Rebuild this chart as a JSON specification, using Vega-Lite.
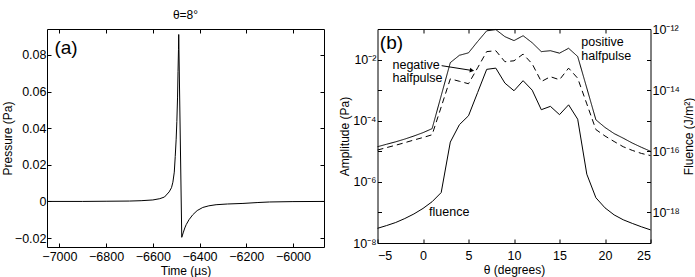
{
  "$schema": "https://vega.github.io/schema/vega-lite/v6.json",
  "background": "white",
  "padding": {"left": 0, "top": 8, "right": 1, "bottom": 1},
  "bounds": "flush",
  "spacing": 53.5,
  "config": {
    "font": "Liberation Sans",
    "view": {"stroke": "black", "strokeWidth": 1},
    "axis": {
      "grid": false,
      "domain": false,
      "tickColor": "black",
      "tickSize": -4,
      "labelPadding": 6,
      "labelFontSize": 12.5,
      "labelColor": "black",
      "labelFont": "Liberation Sans",
      "titleFontSize": 12,
      "titleFontWeight": "normal",
      "titleColor": "black",
      "titleFont": "Liberation Sans",
      "titlePadding": 0
    },
    "title": {"fontSize": 12, "fontWeight": "normal", "font": "Liberation Sans", "offset": 7, "color": "black"}
  },
  "hconcat": [
    {
      "width": 277,
      "height": 218,
      "title": {"text": "θ=8°"},
      "layer": [
        {
          "data": {"values": [
            {"t": -7053, "p": 0},
            {"t": -6900, "p": 0},
            {"t": -6800, "p": 0.0001},
            {"t": -6700, "p": 0.0002},
            {"t": -6650, "p": 0.0004},
            {"t": -6600, "p": 0.0008},
            {"t": -6570, "p": 0.0015},
            {"t": -6550, "p": 0.0024},
            {"t": -6530, "p": 0.0052},
            {"t": -6520, "p": 0.0075},
            {"t": -6514, "p": 0.0105},
            {"t": -6508, "p": 0.016},
            {"t": -6504, "p": 0.0245},
            {"t": -6500, "p": 0.034},
            {"t": -6497, "p": 0.0436},
            {"t": -6494, "p": 0.057},
            {"t": -6492, "p": 0.0709},
            {"t": -6490, "p": 0.083},
            {"t": -6489, "p": 0.0912},
            {"t": -6476, "p": -0.0196},
            {"t": -6470, "p": -0.0172},
            {"t": -6463, "p": -0.0145},
            {"t": -6457, "p": -0.0127},
            {"t": -6445, "p": -0.0100},
            {"t": -6429, "p": -0.0073},
            {"t": -6410, "p": -0.0050},
            {"t": -6386, "p": -0.0033},
            {"t": -6360, "p": -0.0024},
            {"t": -6329, "p": -0.0018},
            {"t": -6280, "p": -0.0014},
            {"t": -6214, "p": -0.0011},
            {"t": -6150, "p": -0.0006},
            {"t": -6100, "p": -0.0003},
            {"t": -6000, "p": -0.0001},
            {"t": -5867, "p": 0}
          ]},
          "mark": {"type": "line", "color": "black", "strokeWidth": 1},
          "encoding": {
            "x": {"field": "t", "type": "quantitative",
              "scale": {"domain": [-7053, -5867], "nice": false, "zero": false},
              "axis": {"orient": "bottom", "values": [-7000, -6800, -6600, -6400, -6200, -6000], "format": "d", "title": "Time (µs)", "labelPadding": 7, "titlePadding": 3}},
            "y": {"field": "p", "type": "quantitative",
              "scale": {"domain": [-0.0249, 0.0942], "nice": false, "zero": false},
              "axis": {"orient": "left", "values": [-0.02, 0, 0.02, 0.04, 0.06, 0.08], "labelExpr": "datum.value == 0 ? '0' : format(datum.value, '.2f')", "title": "Pressure (Pa)", "labelPadding": 5, "titlePadding": 0}}
          }
        },
        {
          "data": {"values": [{"t": -7021, "p": 0.0807, "label": "(a)"}]},
          "mark": {"type": "text", "align": "left", "baseline": "alphabetic", "fontSize": 19, "font": "Liberation Sans", "color": "black"},
          "encoding": {
            "x": {"field": "t", "type": "quantitative", "axis": {"orient": "top", "labels": false, "title": null, "values": [-7000, -6800, -6600, -6400, -6200, -6000]}},
            "y": {"field": "p", "type": "quantitative", "axis": {"orient": "right", "labels": false, "title": null, "values": [-0.02, 0, 0.02, 0.04, 0.06, 0.08]}},
            "text": {"field": "label"}
          }
        }
      ],
      "resolve": {"axis": {"x": "independent", "y": "independent"}}
    },
    {
      "width": 273,
      "height": 214,
      "layer": [
        {
          "encoding": {
            "x": {"field": "theta", "type": "quantitative",
              "scale": {"domain": [-5, 25], "nice": false, "zero": false},
              "axis": {"orient": "bottom", "values": [-5, 0, 5, 10, 15, 20, 25], "title": "θ (degrees)", "labelPadding": 10, "titlePadding": 3}},
            "y": {"field": "amp", "type": "quantitative",
              "scale": {"type": "log", "domain": [1e-8, 0.1], "nice": false},
              "axis": {"orient": "left", "values": [1e-8, 1e-7, 1e-6, 1e-5, 1e-4, 1e-3, 1e-2], "labelExpr": "(round(log(datum.value)/LN10) % 2 != 0) ? '' : '10⁻' + ['⁰','¹','²','³','⁴','⁵','⁶','⁷','⁸','⁹'][-round(log(datum.value)/LN10)]", "title": "Amplitude (Pa)", "labelPadding": 5.5, "titlePadding": 1}}
          },
          "layer": [
            {
              "data": {"values": [
                {"theta": -5, "amp": 1.41e-5, "series": "positive"},
                {"theta": -4, "amp": 1.70e-5, "series": "positive"},
                {"theta": -3, "amp": 2.04e-5, "series": "positive"},
                {"theta": -2, "amp": 2.51e-5, "series": "positive"},
                {"theta": -1, "amp": 3.16e-5, "series": "positive"},
                {"theta": 0, "amp": 4.07e-5, "series": "positive"},
                {"theta": 1, "amp": 5.50e-5, "series": "positive"},
                {"theta": 2, "amp": 6.61e-4, "series": "positive"},
                {"theta": 3, "amp": 7.94e-3, "series": "positive"},
                {"theta": 4, "amp": 1.38e-2, "series": "positive"},
                {"theta": 5, "amp": 1.66e-2, "series": "positive"},
                {"theta": 6, "amp": 3.89e-2, "series": "positive"},
                {"theta": 7, "amp": 8.71e-2, "series": "positive"},
                {"theta": 8, "amp": 9.55e-2, "series": "positive"},
                {"theta": 9, "amp": 5.62e-2, "series": "positive"},
                {"theta": 10, "amp": 4.17e-2, "series": "positive"},
                {"theta": 11, "amp": 6.03e-2, "series": "positive"},
                {"theta": 12, "amp": 3.55e-2, "series": "positive"},
                {"theta": 13, "amp": 1.82e-2, "series": "positive"},
                {"theta": 14, "amp": 1.95e-2, "series": "positive"},
                {"theta": 15, "amp": 1.62e-2, "series": "positive"},
                {"theta": 16, "amp": 2.34e-2, "series": "positive"},
                {"theta": 17, "amp": 1.26e-2, "series": "positive"},
                {"theta": 18, "amp": 1.17e-3, "series": "positive"},
                {"theta": 19, "amp": 1.07e-4, "series": "positive"},
                {"theta": 20, "amp": 6.03e-5, "series": "positive"},
                {"theta": 21, "amp": 3.80e-5, "series": "positive"},
                {"theta": 22, "amp": 2.69e-5, "series": "positive"},
                {"theta": 23, "amp": 1.86e-5, "series": "positive"},
                {"theta": 24, "amp": 1.35e-5, "series": "positive"},
                {"theta": 25, "amp": 1.0e-5, "series": "positive"},
                {"theta": -5, "amp": 1.10e-5, "series": "negative"},
                {"theta": -4, "amp": 1.32e-5, "series": "negative"},
                {"theta": -3, "amp": 1.58e-5, "series": "negative"},
                {"theta": -2, "amp": 1.91e-5, "series": "negative"},
                {"theta": -1, "amp": 2.34e-5, "series": "negative"},
                {"theta": 0, "amp": 2.82e-5, "series": "negative"},
                {"theta": 1, "amp": 3.47e-5, "series": "negative"},
                {"theta": 2, "amp": 2.82e-4, "series": "negative"},
                {"theta": 3, "amp": 2.34e-3, "series": "negative"},
                {"theta": 4, "amp": 1.95e-3, "series": "negative"},
                {"theta": 5, "amp": 1.62e-3, "series": "negative"},
                {"theta": 6, "amp": 5.37e-3, "series": "negative"},
                {"theta": 7, "amp": 1.82e-2, "series": "negative"},
                {"theta": 8, "amp": 1.95e-2, "series": "negative"},
                {"theta": 9, "amp": 8.51e-3, "series": "negative"},
                {"theta": 10, "amp": 9.12e-3, "series": "negative"},
                {"theta": 11, "amp": 1.51e-2, "series": "negative"},
                {"theta": 12, "amp": 7.24e-3, "series": "negative"},
                {"theta": 13, "amp": 1.91e-3, "series": "negative"},
                {"theta": 14, "amp": 2.75e-3, "series": "negative"},
                {"theta": 15, "amp": 2.19e-3, "series": "negative"},
                {"theta": 16, "amp": 5.25e-3, "series": "negative"},
                {"theta": 17, "amp": 2.45e-3, "series": "negative"},
                {"theta": 18, "amp": 3.55e-4, "series": "negative"},
                {"theta": 19, "amp": 5.13e-5, "series": "negative"},
                {"theta": 20, "amp": 3.16e-5, "series": "negative"},
                {"theta": 21, "amp": 2.09e-5, "series": "negative"},
                {"theta": 22, "amp": 1.41e-5, "series": "negative"},
                {"theta": 23, "amp": 1.07e-5, "series": "negative"},
                {"theta": 24, "amp": 8.51e-6, "series": "negative"},
                {"theta": 25, "amp": 7.24e-6, "series": "negative"}
              ]},
              "mark": {"type": "line", "color": "black", "strokeWidth": 1},
              "encoding": {
                "strokeDash": {"field": "series", "type": "nominal", "scale": {"domain": ["positive", "negative"], "range": [[1, 0], [6, 4]]}, "legend": null}
              }
            },
            {
              "data": {"values": [
                {"theta": -3.35, "amp": 5.1e-3, "label": "negative"},
                {"theta": -3.35, "amp": 1.82e-3, "label": "halfpulse"},
                {"theta": 17.39, "amp": 2.88e-2, "label": "positive"},
                {"theta": 17.39, "amp": 1.0e-2, "label": "halfpulse"},
                {"theta": 0.67, "amp": 7.6e-8, "label": "fluence"}
              ]},
              "mark": {"type": "text", "align": "left", "baseline": "alphabetic", "fontSize": 12.5, "font": "Liberation Sans", "color": "black"},
              "encoding": {"text": {"field": "label"}}
            },
            {
              "data": {"values": [{"theta": -4.74, "amp": 0.0229, "label": "(b)"}]},
              "mark": {"type": "text", "align": "left", "baseline": "alphabetic", "fontSize": 19, "font": "Liberation Sans", "color": "black"},
              "encoding": {"text": {"field": "label"}}
            },
            {
              "data": {"values": [{"theta": 2.05, "amp": 6.31e-3}, {"theta": 5.38, "amp": 4.40e-3}]},
              "mark": {"type": "line", "color": "black", "strokeWidth": 1},
              "encoding": {}
            },
            {
              "data": {"values": [{"theta": 5.38, "amp": 4.40e-3}]},
              "mark": {"type": "point", "shape": "triangle-right", "angle": 9, "filled": true, "color": "black", "size": 25, "opacity": 1},
              "encoding": {}
            }
          ]
        },
        {
          "data": {"values": [
            {"theta": -5, "fluence": 3.02e-19},
            {"theta": -4, "fluence": 3.72e-19},
            {"theta": -3, "fluence": 4.68e-19},
            {"theta": -2, "fluence": 6.31e-19},
            {"theta": -1, "fluence": 8.91e-19},
            {"theta": 0, "fluence": 1.35e-18},
            {"theta": 1, "fluence": 2.24e-18},
            {"theta": 2, "fluence": 4.47e-18},
            {"theta": 3, "fluence": 2.0e-16},
            {"theta": 4, "fluence": 7.41e-16},
            {"theta": 5, "fluence": 1.45e-15},
            {"theta": 6, "fluence": 8.32e-15},
            {"theta": 7, "fluence": 4.79e-14},
            {"theta": 8, "fluence": 5.25e-14},
            {"theta": 9, "fluence": 1.70e-14},
            {"theta": 10, "fluence": 9.55e-15},
            {"theta": 11, "fluence": 2.04e-14},
            {"theta": 12, "fluence": 1.0e-14},
            {"theta": 13, "fluence": 2.29e-15},
            {"theta": 14, "fluence": 2.95e-15},
            {"theta": 15, "fluence": 1.58e-15},
            {"theta": 16, "fluence": 3.31e-15},
            {"theta": 17, "fluence": 1.12e-15},
            {"theta": 18, "fluence": 1.78e-17},
            {"theta": 19, "fluence": 3.02e-18},
            {"theta": 20, "fluence": 1.41e-18},
            {"theta": 21, "fluence": 8.32e-19},
            {"theta": 22, "fluence": 5.75e-19},
            {"theta": 23, "fluence": 4.37e-19},
            {"theta": 24, "fluence": 3.39e-19},
            {"theta": 25, "fluence": 2.69e-19}
          ]},
          "mark": {"type": "line", "color": "black", "strokeWidth": 1},
          "encoding": {
            "x": {"field": "theta", "type": "quantitative",
              "scale": {"domain": [-5, 25], "nice": false, "zero": false},
              "axis": {"orient": "top", "labels": false, "title": null, "values": [0, 5, 10, 15, 20]}},
            "y": {"field": "fluence", "type": "quantitative",
              "scale": {"type": "log", "domain": [1e-19, 1e-12], "nice": false},
              "axis": {"orient": "right", "values": [1e-19, 1e-18, 1e-17, 1e-16, 1e-15, 1e-14, 1e-13, 1e-12], "labelExpr": "(round(log(datum.value)/LN10) % 2 != 0) ? '' : '10⁻¹' + ['⁰','¹','²','³','⁴','⁵','⁶','⁷','⁸','⁹'][-round(log(datum.value)/LN10) - 10]", "title": "Fluence (J/m²)", "titleAngle": 270, "titleBaseline": "top", "labelPadding": 5.5, "titlePadding": 4}}
          }
        }
      ],
      "resolve": {"scale": {"y": "independent"}, "axis": {"x": "independent", "y": "independent"}}
    }
  ]
}
